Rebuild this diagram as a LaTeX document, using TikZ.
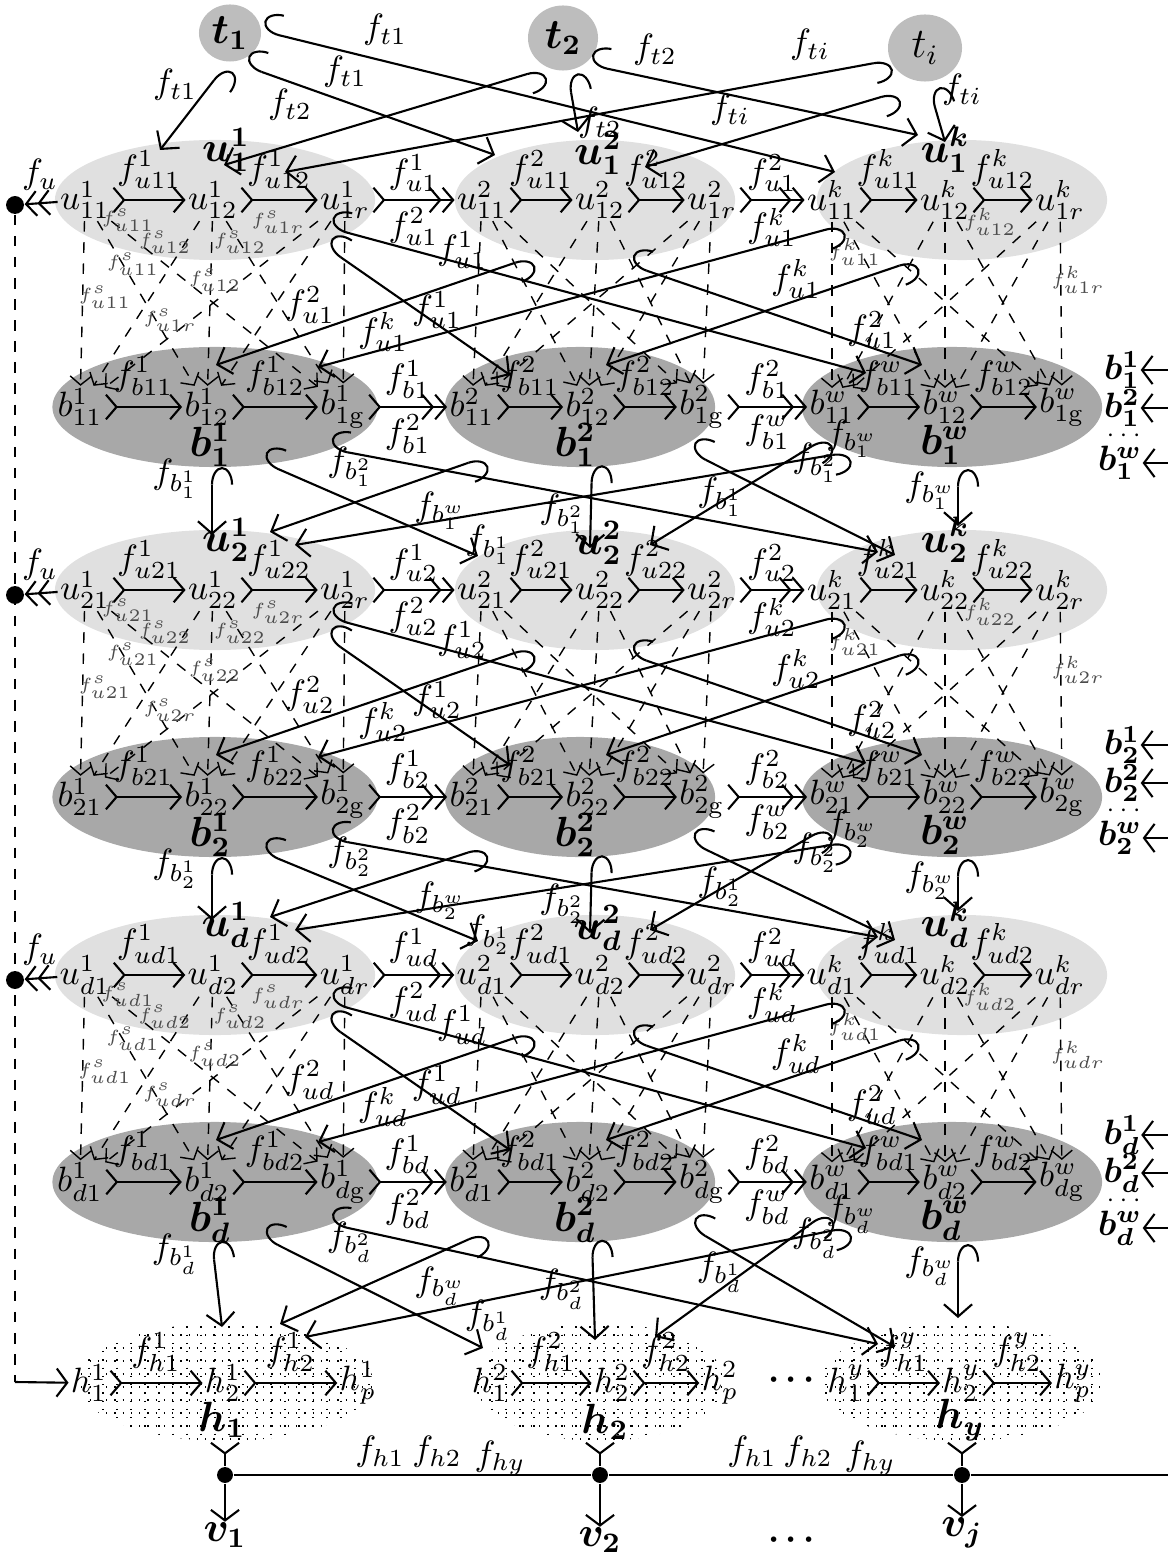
\documentclass[tikz,border=0pt]{standalone}
\usepackage{amsmath,amssymb,bm}
\usepackage{tikz}
\usetikzlibrary{arrows.meta,shapes.geometric,calc}
\definecolor{ufill}{HTML}{E0E0E0}
\definecolor{bfill}{HTML}{A8A8A8}
\definecolor{tfill}{HTML}{BDBDBD}

\tikzset{
  ugroup/.style={ellipse, fill=ufill, inner sep=0pt, minimum height=1.2cm},
  bgroup/.style={ellipse, fill=bfill, inner sep=0pt, minimum height=1.2cm},
  hgroup/.style={ellipse, inner sep=0pt, minimum height=1.18cm},
  tnode/.style={ellipse, fill=tfill, inner sep=0pt, font=\large},
  elem/.style={inner sep=0.5pt},
  chain/.style={semithick, {Straight Barb[reversed,length=3pt,width=7pt]}-{Straight Barb[length=3pt,width=7pt]}},
  link/.style={semithick, {Straight Barb[reversed,length=3pt,width=7pt]}-{Straight Barb[length=3pt,width=7pt] Straight Barb[length=3pt,width=7pt]}},
  flow/.style={semithick, {Hooks[right,length=5pt,width=12pt]}-{Straight Barb[length=3.5pt,width=8pt]}},
  share/.style={thin, dashed, -{Straight Barb[length=2.5pt,width=6pt]}},
  lbl/.style={inner sep=0pt},
  small/.style={inner sep=0pt, font=\tiny, text=black!70},
  big/.style={inner sep=0pt, font=\large},
}

\begin{document}
\begin{tikzpicture}[x=0.01cm, y=-0.01cm]
  \useasboundingbox (0,0) rectangle (1168,1558);

  % Group backgrounds
  \foreach \rw/\uy/\by in {1/200/407, 2/590/797, d/975/1182} {
    \node[ugroup, minimum width=3.2cm] (U-\rw-1) at (215,\uy) {};
    \node[ugroup, minimum width=2.8cm] (U-\rw-2) at (595,\uy) {};
    \node[ugroup, minimum width=2.9cm] (U-\rw-3) at (962,\uy) {};
    \node[bgroup, minimum width=3.25cm] (B-\rw-1) at (215,\by) {};
    \node[bgroup, minimum width=2.7cm] (B-\rw-2) at (580,\by) {};
    \node[bgroup, minimum width=3.0cm] (B-\rw-3) at (952,\by) {};
  }

  % h groups with dotted grid
  \foreach \gr/\hx/\hw/\hr in {1/225/2.96cm/148, 2/600/2.5cm/125, 3/962/2.85cm/142} {
    \node[hgroup, minimum width=\hw] (H-\gr) at (\hx,1382) {};
    \begin{scope}
      \clip (\hx,1382) ellipse [x radius=\hr, y radius=59];
      \foreach \gx in {-150,-136,...,150}
        \draw[dotted, line width=0.35pt] (\hx+\gx,1318) -- (\hx+\gx,1446);
      \foreach \gy in {1322,1335,...,1446}
        \draw[dotted, line width=0.35pt] (\hx-152,\gy) -- (\hx+152,\gy);
    \end{scope}
  }

  % Sources t
  \node[tnode, minimum width=0.62cm, minimum height=0.57cm] (t1) at (230,33) {$\bm{t_1}$};
  \node[tnode, minimum width=0.7cm, minimum height=0.65cm] (t2) at (563,38) {$\bm{t_2}$};
  \node[tnode, minimum width=0.74cm, minimum height=0.67cm] (ti) at (925,48) {$t_i$};

  \draw[flow] ($(t1)+(-5,33)$) -- ($(U-1-1)+(-55,-50)$);
  \draw[flow] ($(t1)+(15,33)$) -- ($(U-1-2)+(-100,-45)$);
  \draw[flow] ($(t1)+(32,-2)$) -- ($(U-1-3)+(-127,-28)$);
  \draw[flow] ($(t2)+(-19,31)$) -- ($(U-1-1)+(9,-35)$);
  \draw[flow] ($(t2)+(5,37)$) -- ($(U-1-2)+(-17,-68)$);
  \draw[flow] ($(t2)+(27,27)$) -- ($(U-1-3)+(-44,-65)$);
  \draw[flow] ($(ti)+(-34,12)$) -- ($(U-1-1)+(70,-28)$);
  \draw[flow] ($(ti)+(-27,44)$) -- ($(U-1-2)+(50,-33)$);
  \draw[flow] ($(ti)+(5,42)$) -- ($(U-1-3)+(-17,-58)$);
  \node[lbl] at (175,85) {$f_{t1}$};
  \node[lbl] at (345,72) {$f_{t1}$};
  \node[lbl] at (385,30) {$f_{t1}$};
  \node[lbl] at (290,105) {$f_{t2}$};
  \node[lbl] at (600,123) {$f_{t2}$};
  \node[lbl] at (655,50) {$f_{t2}$};
  \node[lbl] at (810,45) {$f_{ti}$};
  \node[lbl] at (730,110) {$f_{ti}$};
  \node[lbl] at (962,90) {$f_{ti}$};

  % Rows of u and b groups
  \foreach \rw/\uy/\by/\ky/\tgt in {1/200/407/370/U-2, 2/590/797/745/U-d, d/975/1182/1135/H} {
    \foreach \gr/\ix/\xa/\xb/\xc in {1/1/85/213/345, 2/2/482/600/712, 3/k/832/945/1060} {
      \node[elem] (u-\rw-\gr-1) at (\xa,\uy) {$u^{\ix}_{\rw1}$};
      \node[elem] (u-\rw-\gr-2) at (\xb,\uy) {$u^{\ix}_{\rw2}$};
      \node[elem] (u-\rw-\gr-3) at (\xc,\uy) {$u^{\ix}_{\rw r}$};
      \draw[chain] (u-\rw-\gr-1) -- node[lbl, above=3pt] {$f^{\ix}_{u\rw1}$} (u-\rw-\gr-2);
      \draw[chain] (u-\rw-\gr-2) -- node[lbl, above=3pt] {$f^{\ix}_{u\rw2}$} (u-\rw-\gr-3);
    }
    \foreach \gr/\ix/\xa/\xb/\xc in {1/1/80/207/343, 2/2/472/588/702, 3/w/832/945/1062} {
      \node[elem] (b-\rw-\gr-1) at (\xa,\by) {$b^{\ix}_{\rw1}$};
      \node[elem] (b-\rw-\gr-2) at (\xb,\by) {$b^{\ix}_{\rw2}$};
      \node[elem] (b-\rw-\gr-3) at (\xc,\by) {$b^{\ix}_{\rw\mathrm{g}}$};
      \draw[chain] (b-\rw-\gr-1) -- node[lbl, above=3pt] {$f^{\ix}_{b\rw1}$} (b-\rw-\gr-2);
      \draw[chain] (b-\rw-\gr-2) -- node[lbl, above=3pt] {$f^{\ix}_{b\rw2}$} (b-\rw-\gr-3);
    }

    % group names
    \node[big] at (226,\uy-50) {$\bm{u^{1}_{\rw}}$};
    \node[big] at (598,\uy-47) {$\bm{u^{2}_{\rw}}$};
    \node[big] at (945,\uy-50) {$\bm{u^{k}_{\rw}}$};
    \node[big] at (210,\by+38) {$\bm{b^{1}_{\rw}}$};
    \node[big] at (575,\by+38) {$\bm{b^{2}_{\rw}}$};
    \node[big] at (945,\by+38) {$\bm{b^{w}_{\rw}}$};

    % dashed sharing u -> b inside a column
    \foreach \gr in {1,2,3}
      \foreach \i in {1,2,3}
        \foreach \j in {1,2,3}
          \draw[share] (u-\rw-\gr-\i) -- (b-\rw-\gr-\j);

    % tiny labels
    \node[small] at (128,\uy+20) {$f^{s}_{u\rw1}$};
    \node[small] at (278,\uy+22) {$f^{s}_{u\rw r}$};
    \node[small] at (165,\uy+42) {$f^{s}_{u\rw2}$};
    \node[small] at (240,\uy+42) {$f^{s}_{u\rw2}$};
    \node[small] at (133,\uy+64) {$f^{s}_{u\rw1}$};
    \node[small] at (215,\uy+80) {$f^{s}_{u\rw2}$};
    \node[small] at (105,\uy+97) {$f^{s}_{u\rw1}$};
    \node[small] at (170,\uy+120) {$f^{s}_{u\rw r}$};
    \node[small] at (990,\uy+22) {$f^{k}_{u\rw2}$};
    \node[small] at (855,\uy+52) {$f^{k}_{u\rw1}$};
    \node[small] at (1078,\uy+80) {$f^{k}_{u\rw r}$};

    % links between columns
    \draw[link] (u-\rw-1-3) -- node[lbl, above=2pt] {$f^{1}_{u\rw}$} node[lbl, below=2pt] {$f^{2}_{u\rw}$} (u-\rw-2-1);
    \draw[link] (u-\rw-2-3) -- node[lbl, above=2pt] {$f^{2}_{u\rw}$} node[lbl, below=2pt] {$f^{k}_{u\rw}$} (u-\rw-3-1);
    \draw[link] (b-\rw-1-3) -- node[lbl, above=2pt] {$f^{1}_{b\rw}$} node[lbl, below=2pt] {$f^{2}_{b\rw}$} (b-\rw-2-1);
    \draw[link] (b-\rw-2-3) -- node[lbl, above=2pt] {$f^{2}_{b\rw}$} node[lbl, below=2pt] {$f^{w}_{b\rw}$} (b-\rw-3-1);

    % left outlet
    \node[circle, fill, inner sep=1.8pt] (dot-\rw) at (15,\uy+5) {};
    \draw[semithick, -{Straight Barb[length=3pt,width=7pt] Straight Barb[length=3pt,width=7pt]}] (u-\rw-1-1) -- (dot-\rw);
    \node[lbl] at (40,\uy-25) {$f_u$};

    % u -> b across columns
    \draw[flow] ($(U-\rw-1)+(111,47)$) -- ($(B-\rw-2)+(-70,-32)$);
    \draw[flow] ($(U-\rw-1)+(115,28)$) -- ($(B-\rw-3)+(-86,-34)$);
    \draw[flow] ($(U-\rw-2)+(-63,57)$) -- ($(B-\rw-1)+(1,-42)$);
    \draw[flow] ($(U-\rw-2)+(35,65)$) -- ($(B-\rw-3)+(-30,-42)$);
    \draw[flow] ($(U-\rw-3)+(-119,25)$) -- ($(B-\rw-1)+(103,-40)$);
    \draw[flow] ($(U-\rw-3)+(-46,60)$) -- ($(B-\rw-2)+(26,-42)$);
    \node[lbl] at (310,\uy+105) {$f^{2}_{u\rw}$};
    \node[lbl] at (383,\uy+132) {$f^{k}_{u\rw}$};
    \node[lbl] at (437,\uy+110) {$f^{1}_{u\rw}$};
    \node[lbl] at (462,\uy+50) {$f^{1}_{u\rw}$};
    \node[lbl] at (796,\uy+79) {$f^{k}_{u\rw}$};
    \node[lbl] at (872,\uy+130) {$f^{2}_{u\rw}$};

    % b -> next row
    \draw[flow] ($(B-\rw-1)+(-3,60)$) -- ($(\tgt-1)+(-3,-55)$);
    \draw[flow] ($(B-\rw-1)+(47,55)$) -- ($(\tgt-2)+(-117,-34)$);
    \draw[flow] ($(B-\rw-1)+(115,42)$) -- ($(\tgt-3)+(-84,-38)$);
    \draw[flow] ($(B-\rw-2)+(-95,50)$) -- ($(\tgt-1)+(55,-58)$);
    \draw[flow] ($(B-\rw-2)+(12,58)$) -- ($(\tgt-2)+(-5,-42)$);
    \draw[flow] ($(B-\rw-2)+(110,45)$) -- ($(\tgt-3)+(-67,-35)$);
    \draw[flow] ($(B-\rw-3)+(-102,45)$) -- ($(\tgt-1)+(80,-45)$);
    \draw[flow] ($(B-\rw-3)+(-125,30)$) -- ($(\tgt-2)+(55,-45)$);
    \draw[flow] ($(B-\rw-3)+(6,62)$) -- ($(\tgt-3)+(-4,-64)$);
    \node[lbl] at (175,\by+72) {$f_{b^{1}_{\rw}}$};
    \node[lbl] at (350,\by+60) {$f_{b^{2}_{\rw}}$};
    \node[lbl] at (440,\by+104) {$f_{b^{w}_{\rw}}$};
    \node[lbl] at (488,\by+138) {$f_{b^{1}_{\rw}}$};
    \node[lbl] at (562,\by+107) {$f_{b^{2}_{\rw}}$};
    \node[lbl] at (720,\by+90) {$f_{b^{1}_{\rw}}$};
    \node[lbl] at (815,\by+56) {$f_{b^{2}_{\rw}}$};
    \node[lbl] at (852,\by+32) {$f_{b^{w}_{\rw}}$};
    \node[lbl] at (930,\by+84) {$f_{b^{w}_{\rw}}$};

    % inputs from the right
    \node[lbl] (in-\rw-1) at (1122,\ky) {$\bm{b^{1}_{\rw}}$};
    \node[lbl] (in-\rw-2) at (1122,\ky+38) {$\bm{b^{2}_{\rw}}$};
    \node[lbl, font=\scriptsize] at (1126,\ky+66) {$\cdots$};
    \node[lbl] (in-\rw-3) at (1120,\ky+93) {$\bm{b^{w}_{\rw}}$};
    \foreach \k in {1,2,3}
      \draw[semithick, {Straight Barb[length=3pt,width=8pt]}-] (in-\rw-\k) -- ++(48,0);
  }

  % Elements in h groups
  \foreach \gr/\ix/\xa/\xb/\xc in {1/1/89/223/358, 2/2/490/612/720, 3/y/846/961/1073} {
    \node[elem] (h-\gr-1) at (\xa,1383) {$h^{\ix}_{1}$};
    \node[elem] (h-\gr-2) at (\xb,1383) {$h^{\ix}_{2}$};
    \node[elem] (h-\gr-3) at (\xc,1383) {$h^{\ix}_{p}$};
    \draw[chain] (h-\gr-1) -- node[lbl, above=3pt] {$f^{\ix}_{h1}$} (h-\gr-2);
    \draw[chain] (h-\gr-2) -- node[lbl, above=3pt] {$f^{\ix}_{h2}$} (h-\gr-3);
  }
  \node[big] at (222,1420) {$\bm{h_1}$};
  \node[big] at (605,1422) {$\bm{h_2}$};
  \node[big] at (960,1420) {$\bm{h_y}$};
  \node[lbl] at (795,1380) {$\bm{\cdots}$};

  % Left return line
  \coordinate (corner) at (15,1382);
  \draw[semithick, dashed] (dot-1) -- (corner);
  \draw[semithick, -{Straight Barb[length=3pt,width=8pt]}] (corner) -- (h-1-1);

  % Outputs v
  \foreach \gr/\hx/\vy/\vl in {1/225/1535/{\bm{v_1}}, 2/600/1540/{\bm{v_2}}, 3/962/1533/{\bm{v_j}}} {
    \node[circle, fill, inner sep=1.6pt] (j-\gr) at (\hx,1475) {};
    \node[big] (v-\gr) at (\hx,\vy) {$\vl$};
    \draw[semithick, {Straight Barb[reversed,length=3pt,width=8pt]}-] (H-\gr.south) -- (j-\gr);
    \draw[semithick, -{Straight Barb[length=3pt,width=8pt]}] (j-\gr) -- (v-\gr);
  }
  \coordinate (busend) at (1168,1475);
  \draw[semithick] (j-1) -- (j-2) -- (j-3) -- (busend);
  \node[lbl] at (795,1540) {$\bm{\cdots}$};
  \node[lbl] at (380,1452) {$f_{h1}$};
  \node[lbl] at (437,1452) {$f_{h2}$};
  \node[lbl] at (500,1458) {$f_{hy}$};
  \node[lbl] at (752,1452) {$f_{h1}$};
  \node[lbl] at (808,1452) {$f_{h2}$};
  \node[lbl] at (870,1458) {$f_{hy}$};
\end{tikzpicture}
\end{document}
